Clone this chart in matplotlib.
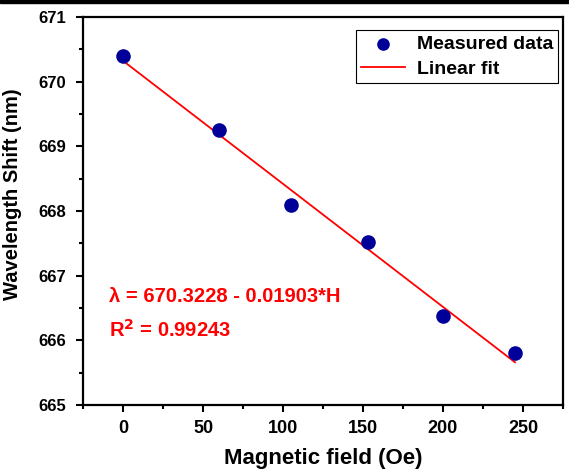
import numpy as np
import matplotlib
matplotlib.use("Agg")
import matplotlib.pyplot as plt
from matplotlib.patches import Rectangle
from matplotlib.ticker import MultipleLocator

# datos medidos
campo = [0, 60, 105, 153, 200, 245]
longitud = [670.4, 669.25, 668.1, 667.52, 666.37, 665.8]

# ajuste lineal reportado
intercepto = 670.3228
pendiente = -0.01903
ecuacion = "λ = 670.3228 - 0.01903*H"
r2_texto = "R$^{\\mathbf{2}}$ = 0.99243"

plt.rcParams['font.family'] = ['Liberation Sans', 'DejaVu Sans']
plt.rcParams['font.weight'] = 'bold'
plt.rcParams['mathtext.default'] = 'bf'

fig = plt.figure(figsize=(5.69, 4.73), dpi=100)
ax = fig.add_axes([83/569, 1 - 405/473, 480/569, 388/473])

ax.scatter(campo, longitud, s=90, color='#000099', zorder=3, label='Measured data')
x_fit = np.array([campo[0], campo[-1]])
ax.plot(x_fit, intercepto + pendiente * x_fit, color='red', lw=1.3, label='Linear fit')

ax.set_xlim(-25, 275)
ax.set_ylim(665, 671)
ax.xaxis.set_major_locator(MultipleLocator(50))
ax.xaxis.set_minor_locator(MultipleLocator(25))
ax.yaxis.set_major_locator(MultipleLocator(1))
ax.yaxis.set_minor_locator(MultipleLocator(0.5))
ax.tick_params(which='major', direction='out', length=5, width=1.5)
ax.tick_params(which='minor', direction='out', length=3, width=1.5)
ax.tick_params(axis='x', labelsize=13, pad=6)
ax.tick_params(axis='y', labelsize=12, pad=7)
for s in ax.spines.values():
    s.set_linewidth(1.6)

ax.set_xlabel("Magnetic field (Oe)", fontsize=16, fontweight='bold', labelpad=8)
ax.set_ylabel("Wavelength Shift (nm)", fontsize=14.5, fontweight='bold')
ax.yaxis.set_label_coords(-61/480, (405 - 194)/388)

ax.text(-9, 666.6, ecuacion, color='red', fontsize=14.5, fontweight='bold')
ax.text(-9, 666.05, r2_texto, color='red', fontsize=14.5, fontweight='bold')

leg = ax.legend(loc='upper right', bbox_to_anchor=(0.99, 0.966), borderaxespad=0,
                fontsize=14, fancybox=False, edgecolor='black', framealpha=1,
                borderpad=0.25, handlelength=2.3, labelspacing=0.4,
                markerscale=0.85, handletextpad=0.6)
leg.get_frame().set_linewidth(0.8)

# barra negra superior
fig.add_artist(Rectangle((0, 1 - 3/473), 1, 3/473, transform=fig.transFigure,
                         color='black'))

fig.savefig("out.png", dpi=100)
